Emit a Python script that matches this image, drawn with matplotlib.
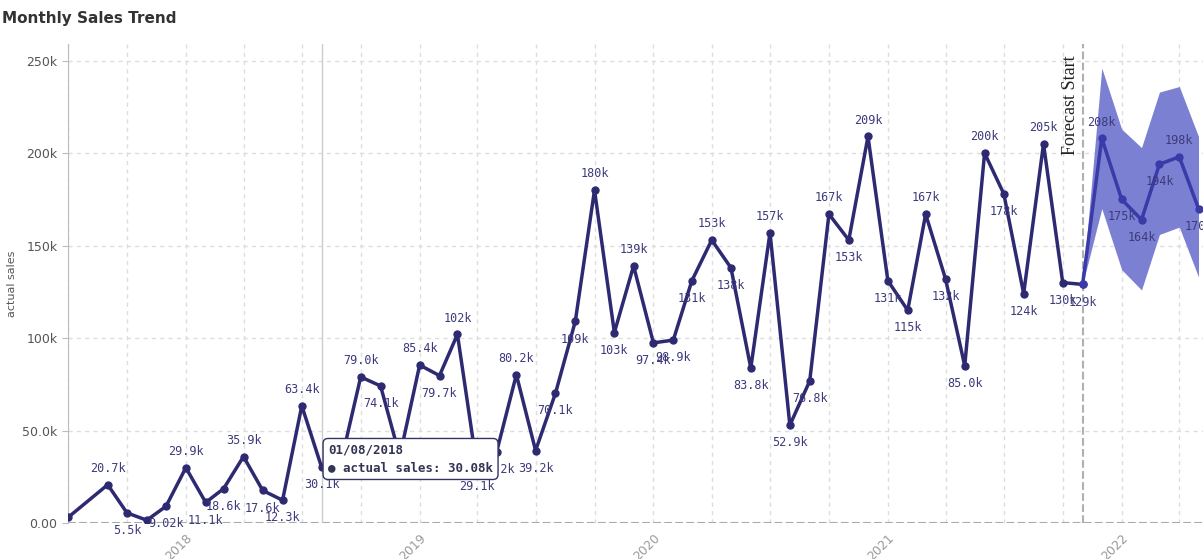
import matplotlib
matplotlib.use("Agg")
import matplotlib.pyplot as plt
import matplotlib.dates as mdates
import numpy as np
import pandas as pd

# actual sales (k)
actual_dates = ["2017-07", "2017-09", "2017-10", "2017-11", "2017-12",
                "2018-01", "2018-02", "2018-03", "2018-04", "2018-05", "2018-06",
                "2018-07", "2018-08", "2018-09", "2018-10", "2018-11", "2018-12",
                "2019-01", "2019-02", "2019-03", "2019-04", "2019-05", "2019-06",
                "2019-07", "2019-08", "2019-09", "2019-10", "2019-11", "2019-12",
                "2020-01", "2020-02", "2020-03", "2020-04", "2020-05", "2020-06",
                "2020-07", "2020-08", "2020-09", "2020-10", "2020-11", "2020-12",
                "2021-01", "2021-02", "2021-03", "2021-04", "2021-05", "2021-06",
                "2021-07", "2021-08", "2021-09", "2021-10", "2021-11"]
actual_vals = [3.0, 20.7, 5.5, 1.5, 9.02,
               29.9, 11.1, 18.6, 35.9, 17.6, 12.3,
               63.4, 30.08, 34.0, 79.0, 74.1, 36.0,
               85.4, 79.7, 102, 29.1, 38.2, 80.2,
               39.2, 70.1, 109, 180, 103, 139,
               97.4, 98.9, 131, 153, 138, 83.8,
               157, 52.9, 76.8, 167, 153, 209,
               131, 115, 167, 132, 85.0, 200,
               178, 124, 205, 130, 129]
actual_labels = ["", "20.7k", "5.5k", "", "9.02k",
                 "29.9k", "11.1k", "18.6k", "35.9k", "17.6k", "12.3k",
                 "63.4k", "30.1k", "", "79.0k", "74.1k", "",
                 "85.4k", "79.7k", "102k", "29.1k", "38.2k", "80.2k",
                 "39.2k", "70.1k", "109k", "180k", "103k", "139k",
                 "97.4k", "98.9k", "131k", "153k", "138k", "83.8k",
                 "157k", "52.9k", "76.8k", "167k", "153k", "209k",
                 "131k", "115k", "167k", "132k", "85.0k", "200k",
                 "178k", "124k", "205k", "130k", "129k"]
label_above = [1, 1, 0, 0, 0,
               1, 0, 0, 1, 0, 0,
               1, 0, 0, 1, 0, 0,
               1, 0, 1, 0, 0, 1,
               0, 0, 0, 1, 0, 1,
               0, 0, 0, 1, 0, 0,
               1, 0, 0, 1, 0, 1,
               0, 0, 1, 0, 0, 1,
               0, 0, 1, 0, 0]

# forecast (k)
fc_dates = ["2021-11", "2021-12", "2022-01", "2022-02", "2022-03", "2022-04", "2022-05"]
fc_vals = [129, 208, 175, 164, 194, 198, 170]
fc_upper = [129, 246, 213, 203, 233, 236, 209]
fc_lower = [129, 170, 137, 126, 156, 160, 133]
fc_labels = ["", "208k", "175k", "164k", "194k", "198k", "170k"]
fc_above = [0, 1, 0, 0, 0, 1, 0]

LINE = "#2e2a72"
BAND = "#7c80d2"
FC_LINE = "#3a3aa8"

ad = pd.to_datetime(actual_dates)
fd = pd.to_datetime(fc_dates)

fig = plt.figure(figsize=(12.03, 5.59), dpi=100)
ax = fig.add_axes([68 / 1203, 36 / 559, 1 - 68 / 1203, 1 - 80 / 559])

ax.fill_between(fd, np.array(fc_lower) * 1000, np.array(fc_upper) * 1000,
                color=BAND, lw=0, zorder=2)
ax.plot(ad, np.array(actual_vals) * 1000, color=LINE, lw=2.5, marker="o", ms=5, zorder=3)
ax.plot(fd, np.array(fc_vals) * 1000, color=FC_LINE, lw=2.5, marker="o", ms=5, zorder=3)

for d, v, lab, up in zip(list(ad) + list(fd), actual_vals + fc_vals,
                         actual_labels + fc_labels, label_above + fc_above):
    if lab:
        ax.annotate(lab, (d, v * 1000), xytext=(0, 7 if up else -8), textcoords="offset points",
                    ha="center", va="bottom" if up else "top", fontsize=8.5,
                    family="DejaVu Sans Mono", color="#3c3a7a", zorder=4)

ax.axhline(0, color="#aaaaaa", ls="--", lw=1.5, zorder=1)
fs = pd.Timestamp("2021-11-01")
ax.axvline(fs, color="#b0b0b0", ls="--", lw=1.5, zorder=1)
ax.text(fs - pd.Timedelta(days=6), 253000, "Forecast Start", rotation=90, ha="right", va="top",
        fontsize=13, family="Liberation Serif", color="#222222")

hover = pd.Timestamp("2018-08-01")
ax.axvline(hover, color="#cccccc", lw=1, zorder=1)
ax.text(hover + pd.Timedelta(days=10), 43000, "01/08/2018\n\u25CF actual sales: 30.08k",
        fontsize=9, family="DejaVu Sans Mono", fontweight="bold", color="#333355", va="top",
        linespacing=1.5,
        bbox=dict(boxstyle="round,pad=0.4", fc="white", ec="#333366", lw=1), zorder=6)

ax.set_xlim(pd.Timestamp("2017-07-01"), pd.Timestamp("2022-05-08"))
ax.set_ylim(0, 259000)
ax.set_yticks([0, 50000, 100000, 150000, 200000, 250000])
ax.set_yticklabels(["0.00", "50.0k", "100k", "150k", "200k", "250k"], color="#555555", fontsize=9)
ax.xaxis.set_major_locator(mdates.YearLocator())
ax.xaxis.set_major_formatter(mdates.DateFormatter("%Y"))
ax.xaxis.set_minor_locator(mdates.MonthLocator(bymonth=[4, 7, 10]))
for lab in ax.get_xticklabels():
    lab.set_rotation(45)
    lab.set_ha("right")
    lab.set_rotation_mode("anchor")
    lab.set_color("#999999")
    lab.set_fontsize(9)
ax.tick_params(axis="x", which="both", length=0, pad=6)
ax.tick_params(axis="y", length=4, color="#bbbbbb")
ax.grid(True, which="both", ls=(0, (3, 3)), color="#dddddd", lw=1)
ax.set_axisbelow(True)
for s in ["top", "right", "bottom"]:
    ax.spines[s].set_visible(False)
ax.spines["left"].set_color("#bbbbbb")
ax.set_ylabel("actual sales", fontsize=8, color="#555555")

fig.text(2 / 1203, 1 - 18 / 559, "Monthly Sales Trend", fontsize=11, fontweight="bold",
         color="#333333", va="center")

fig.savefig("out.png", dpi=100)
